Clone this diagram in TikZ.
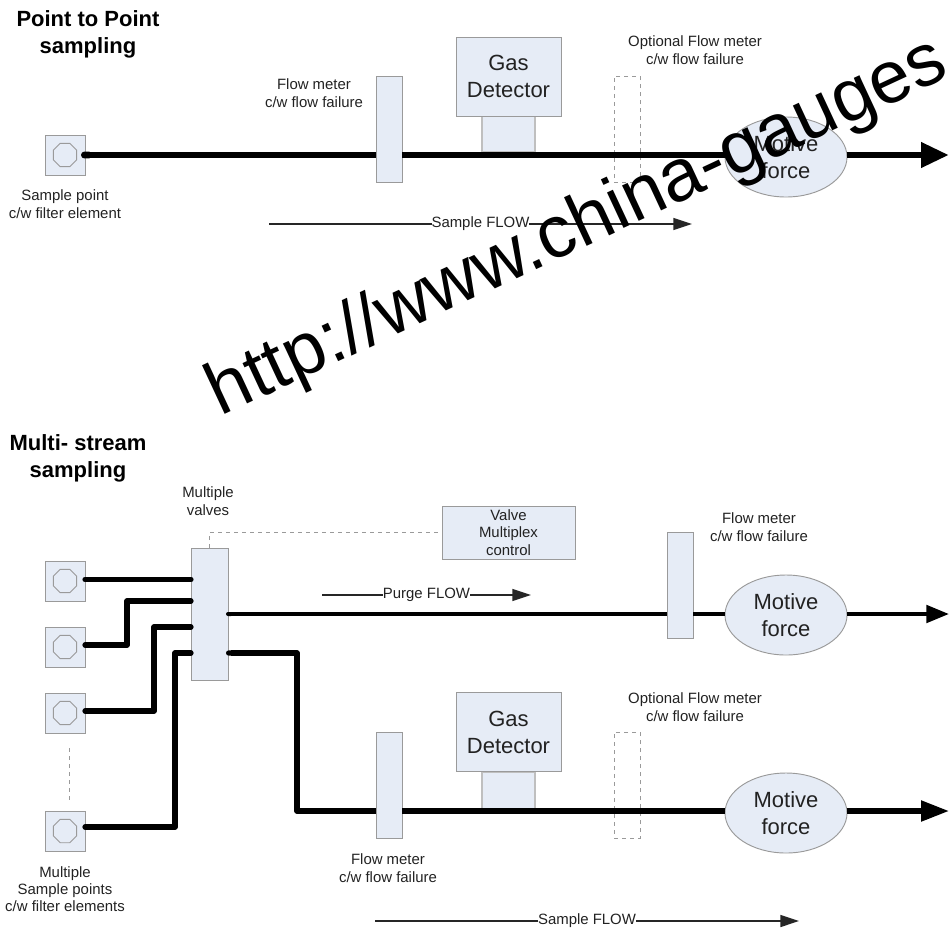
\documentclass[tikz,border=0pt]{standalone}
\usepackage{xcolor}
\usepackage{fontspec}
\setmainfont{Liberation Sans}
\usetikzlibrary{arrows.meta,positioning,shapes.geometric}
\definecolor{partfill}{HTML}{E6ECF6}
\definecolor{partedge}{HTML}{9A9A9A}
\definecolor{inktext}{HTML}{222222}
\tikzset{
  part/.style={draw=partedge, fill=partfill, line width=0.7pt, inner sep=0pt, outer sep=0pt, align=center, text=inktext},
  samplept/.style={part, minimum width=30pt, minimum height=30pt},
  filterel/.style={draw=partedge, fill=partfill, line width=0.7pt, regular polygon, regular polygon sides=8, inner sep=0pt, minimum size=19pt},
  meter/.style={part, minimum width=19.5pt, minimum height=79.5pt},
  optmeter/.style={draw=partedge, dashed, thin, inner sep=0pt, minimum width=19.5pt, minimum height=79.5pt},
  detector/.style={part, minimum width=78.75pt, minimum height=59.25pt, font=\fontsize{16.5}{20.25}\selectfont},
  stub/.style={draw=black!25, fill=partfill, line width=0.8pt, inner sep=0pt, minimum width=39.75pt},
  motive/.style={part, ellipse, minimum width=91.5pt, minimum height=60pt, font=\fontsize{16.5}{20.25}\selectfont},
  lbl/.style={align=center, inner sep=0pt, text=inktext, font=\fontsize{11.2}{13}\selectfont},
  title/.style={align=center, inner sep=0pt, font=\bfseries\fontsize{16.5}{20.25}\selectfont},
  pipe/.style={line width=3.9pt, line cap=round, line join=round},
  pipeout/.style={line width=3.9pt, line join=round, {Round Cap[]}-},
  flowarr/.style={-{Triangle[length=14pt,width=9pt]}, line width=1.1pt, draw=black!85},
  flowlbl/.style={lbl, fill=white, inner xsep=0pt},
  ctrl/.style={draw=partedge, dashed, thin}
}
\begin{document}
\begin{tikzpicture}[x=0.75pt,y=-0.75pt]
\useasboundingbox (0,0) rectangle (949,929);
% point to point
\node[title] (head0) at (88,34) {Point to Point\\sampling};
\node[samplept] (pt0) at (65,155) {};
\node[filterel] (oct0) at (65,155) {};
\node[lbl] (pt0lbl) at (65,204) {Sample point\\c/w filter element};
\node[stub, minimum height=27pt] (stub0) at (508.5,134) {};
\node[detector] (gas0) at (508.5,76.5) {Gas\\Detector};
\node[optmeter] (opt0) at (627,129) {};
\node[meter] (fm0) at (389,129) {};
\node[motive] (mf0) at (786,157) {Motive\\force};
\node[lbl] (fm0lbl) at (314,93) {Flow meter\\c/w flow failure};
\node[lbl] (opt0lbl) at (695,50) {Optional Flow meter\\c/w flow failure};
\coordinate (tip0) at (949,155);
\draw[pipeout, line width=5.2pt] ([xshift=-3pt]pt0.east) -- (pt0.east -| fm0.west);
\draw[line width=5.2pt] (fm0.east |- pt0) -- (mf0.west |- pt0);
\draw[line width=5.2pt, -{Triangle[length=21pt,width=18pt]}] (mf0.east |- pt0) -- (tip0);
\coordinate (flow0a) at (269,224);
\coordinate (flow0b) at (692,224);
\draw[flowarr] (flow0a) -- node[flowlbl] (flow0lbl) {Sample FLOW} (flow0b);
% multi stream
\node[title] (head1) at (78,458.5) {Multi- stream\\sampling};
\node[samplept] (pt1) at (65,581) {};
\node[samplept] (pt2) at (65,647) {};
\node[samplept] (pt3) at (65,713) {};
\node[samplept] (pt4) at (65,831) {};
\node[filterel] (oct1) at (65,581) {};
\node[filterel] (oct2) at (65,647) {};
\node[filterel] (oct3) at (65,713) {};
\node[filterel] (oct4) at (65,831) {};
\node[lbl] (pt4lbl) at (65,889) {Multiple\\Sample points\\c/w filter elements};
\coordinate (gapa) at (69,748);
\coordinate (gapb) at (69,800);
\draw[ctrl] (gapa) -- (gapb);
\node[part, minimum width=27.75pt, minimum height=99pt] (mv) at (209.5,614) {};
\node[lbl] (mvlbl) at (208,501) {Multiple\\valves};
\node[part, font=\fontsize{11.2}{13}\selectfont, minimum width=99.75pt, minimum height=39.75pt] (vc) at (508.5,532.5) {Valve\\Multiplex\\control};
\draw[ctrl] (mv.north) |- ([xshift=-3pt]vc.west);
\coordinate (in1) at (191,579.5);
\coordinate (in2) at (191,601);
\coordinate (in3) at (191,627);
\coordinate (in4) at (191,653);
\draw[pipe] (pt1.east |- in1) -- (in1);
\draw[pipe] (85,645) -| (127,601) -- (in2);
\draw[pipe] (85,711) -| (154,627) -- (in3);
\draw[pipe] (85,827) -| (175,653) -- (in4);
% purge branch
\node[meter] (fm1) at (680,585.5) {};
\node[motive] (mf1) at (786,615) {Motive\\force};
\node[lbl] (fm1lbl) at (759,527) {Flow meter\\c/w flow failure};
\coordinate (purge) at (226,614);
\coordinate (tip1) at (949,614);
\draw[line width=3pt, {Round Cap[]}-] (purge) -- (purge -| fm1.west);
\draw[line width=3pt] (fm1.east |- purge) -- (mf1.west |- purge);
\draw[line width=3pt, -{Triangle[length=17pt,width=13pt]}] (mf1.east |- purge) -- (tip1);
\coordinate (flow1a) at (322,595);
\coordinate (flow1b) at (531,595);
\draw[flowarr] (flow1a) -- node[flowlbl] (flow1lbl) {Purge FLOW} (flow1b);
% sample branch
\node[stub, minimum height=29.25pt] (stub1) at (508.5,791.5) {};
\node[detector] (gas1) at (508.5,732) {Gas\\Detector};
\node[optmeter] (opt1) at (627,785) {};
\node[lbl] (opt1lbl) at (695,707) {Optional Flow meter\\c/w flow failure};
\node[meter] (fm2) at (389,785) {};
\node[motive] (mf2) at (786,813) {Motive\\force};
\node[lbl] (fm2lbl) at (388,868) {Flow meter\\c/w flow failure};
\coordinate (out2) at (226,653);
\coordinate (tip2) at (949,811);
\draw[pipeout] (out2) -| (297,811) -- (fm2.west |- tip2);
\draw[line width=3.9pt] (fm2.east |- tip2) -- (mf2.west |- tip2);
\draw[line width=3.9pt, -{Triangle[length=21pt,width=15pt]}] (mf2.east |- tip2) -- (tip2);
\coordinate (flow2a) at (375,921);
\coordinate (flow2b) at (799,921);
\draw[flowarr] (flow2a) -- node[flowlbl] (flow2lbl) {Sample FLOW} (flow2b);
% overprint
\node[inner sep=0pt, rotate=25, font=\fontsize{55.5}{60}\selectfont] (mark) at (578,229) {http://www.china-gauges};
\end{tikzpicture}
\end{document}
